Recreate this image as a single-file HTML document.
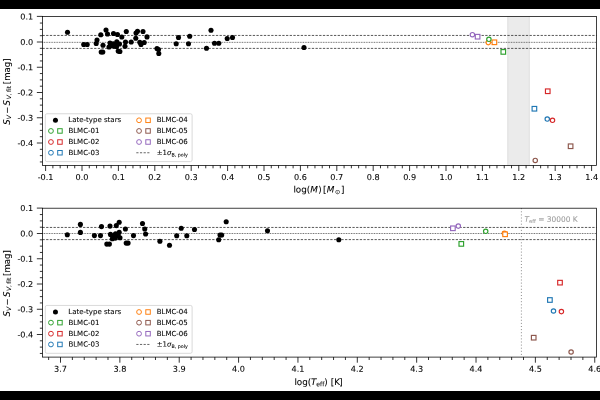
<!DOCTYPE html>
<html lang="en"><head><meta charset="utf-8"><title>Surface brightness residuals</title>
<style>
html,body{margin:0;padding:0;background:#fff;overflow:hidden}
body{width:600px;height:400px;position:relative}
svg{display:block;position:absolute;left:0;top:0}
text{font-family:'DejaVu Sans','Liberation Sans',sans-serif;fill:#000;font-variant-ligatures:none;font-kerning:none;stroke:#000;stroke-width:0.08px}
.tl{font-size:8.15px}
.al{font-size:8.8px}
.lg{font-size:7.0px}
.tk{stroke:#000;stroke-width:0.8}
.sp{fill:none;stroke:#000;stroke-width:0.75}
.dash{stroke:#222;stroke-width:0.75;stroke-dasharray:2.3 1.39}
.dot{stroke:#505050;stroke-width:0.9;stroke-dasharray:0.85 0.8}
</style></head><body>
<svg width="600" height="400" viewBox="0 0 600 400">
<rect x="0" y="0" width="600" height="400" fill="#fff"/>
<rect x="0" y="0" width="600" height="9" fill="#000"/>
<rect x="0" y="391" width="600" height="9" fill="#000"/>
<g id="top">
<rect x="507.3" y="16.5" width="22.5" height="148.90" fill="#ebebeb"/>
<rect x="507.3" y="16.5" width="1.2" height="148.90" fill="#e3e3e3"/>
<rect x="528.6" y="16.5" width="1.2" height="148.90" fill="#e3e3e3"/>
<line x1="42.45" x2="596.45" y1="35.45" y2="35.45" class="dash"/>
<line x1="42.45" x2="596.45" y1="48.40" y2="48.40" class="dash"/>
<line x1="42.45" x2="596.45" y1="42.35" y2="42.35" class="dot"/>
<circle cx="67.5" cy="32.2" r="2.55" fill="#000"/>
<circle cx="83.7" cy="44.5" r="2.55" fill="#000"/>
<circle cx="87.2" cy="44.5" r="2.55" fill="#000"/>
<circle cx="97" cy="40" r="2.55" fill="#000"/>
<circle cx="96.2" cy="43.5" r="2.55" fill="#000"/>
<circle cx="100.8" cy="34.8" r="2.55" fill="#000"/>
<circle cx="103" cy="45.2" r="2.55" fill="#000"/>
<circle cx="101.2" cy="52" r="2.55" fill="#000"/>
<circle cx="102.8" cy="52" r="2.55" fill="#000"/>
<circle cx="106" cy="30" r="2.55" fill="#000"/>
<circle cx="107.5" cy="34" r="2.55" fill="#000"/>
<circle cx="110" cy="43" r="2.55" fill="#000"/>
<circle cx="109" cy="47" r="2.55" fill="#000"/>
<circle cx="113.5" cy="33.5" r="2.55" fill="#000"/>
<circle cx="117.5" cy="34.5" r="2.55" fill="#000"/>
<circle cx="116.8" cy="41.8" r="2.55" fill="#000"/>
<circle cx="114.5" cy="46.2" r="2.55" fill="#000"/>
<circle cx="119.5" cy="44" r="2.55" fill="#000"/>
<circle cx="118.2" cy="51.1" r="2.55" fill="#000"/>
<circle cx="119.9" cy="51.5" r="2.55" fill="#000"/>
<circle cx="113.3" cy="43.9" r="2.55" fill="#000"/>
<circle cx="116.6" cy="46.4" r="2.55" fill="#000"/>
<circle cx="112" cy="45.8" r="2.55" fill="#000"/>
<circle cx="121.8" cy="37" r="2.55" fill="#000"/>
<circle cx="126.3" cy="31.5" r="2.55" fill="#000"/>
<circle cx="125.5" cy="42" r="2.55" fill="#000"/>
<circle cx="125" cy="46.2" r="2.55" fill="#000"/>
<circle cx="131.2" cy="42" r="2.55" fill="#000"/>
<circle cx="135.8" cy="38.3" r="2.55" fill="#000"/>
<circle cx="136" cy="33" r="2.55" fill="#000"/>
<circle cx="137.5" cy="31.2" r="2.55" fill="#000"/>
<circle cx="143" cy="31.5" r="2.55" fill="#000"/>
<circle cx="147" cy="36.9" r="2.55" fill="#000"/>
<circle cx="139.8" cy="42.2" r="2.55" fill="#000"/>
<circle cx="141" cy="44.5" r="2.55" fill="#000"/>
<circle cx="144.2" cy="42.5" r="2.55" fill="#000"/>
<circle cx="157" cy="48.5" r="2.55" fill="#000"/>
<circle cx="158.5" cy="49.5" r="2.55" fill="#000"/>
<circle cx="158.8" cy="53.5" r="2.55" fill="#000"/>
<circle cx="178.5" cy="37.5" r="2.55" fill="#000"/>
<circle cx="176.2" cy="43.7" r="2.55" fill="#000"/>
<circle cx="189.7" cy="36.2" r="2.55" fill="#000"/>
<circle cx="188.5" cy="43.7" r="2.55" fill="#000"/>
<circle cx="211" cy="30.2" r="2.55" fill="#000"/>
<circle cx="206.5" cy="48.2" r="2.55" fill="#000"/>
<circle cx="214.5" cy="43.2" r="2.55" fill="#000"/>
<circle cx="218.8" cy="43.2" r="2.55" fill="#000"/>
<circle cx="227.2" cy="38.5" r="2.55" fill="#000"/>
<circle cx="232.5" cy="37.5" r="2.55" fill="#000"/>
<circle cx="304" cy="47.5" r="2.55" fill="#000"/>
<circle cx="488.30" cy="42.60" r="2.20" fill="#fff" stroke="#ff7f0e" stroke-width="1.15"/>
<rect x="492.10" y="40.00" width="4.60" height="4.60" fill="#fff" stroke="#ff7f0e" stroke-width="1.15"/>
<circle cx="488.90" cy="39.30" r="2.20" fill="#fff" stroke="#2ca02c" stroke-width="1.15"/>
<rect x="501.00" y="49.60" width="4.60" height="4.60" fill="#fff" stroke="#2ca02c" stroke-width="1.15"/>
<circle cx="472.40" cy="34.70" r="2.20" fill="#fff" stroke="#9467bd" stroke-width="1.15"/>
<rect x="475.30" y="34.40" width="4.60" height="4.60" fill="#fff" stroke="#9467bd" stroke-width="1.15"/>
<rect x="545.45" y="88.95" width="4.60" height="4.60" fill="#fff" stroke="#d62728" stroke-width="1.15"/>
<rect x="532.10" y="106.45" width="4.60" height="4.60" fill="#fff" stroke="#1f77b4" stroke-width="1.15"/>
<circle cx="547.25" cy="119.00" r="2.20" fill="#fff" stroke="#1f77b4" stroke-width="1.15"/>
<circle cx="552.50" cy="120.25" r="2.20" fill="#fff" stroke="#d62728" stroke-width="1.15"/>
<circle cx="535.25" cy="160.40" r="2.20" fill="#fff" stroke="#8c564b" stroke-width="1.15"/>
<rect x="568.30" y="143.95" width="4.60" height="4.60" fill="#fff" stroke="#8c564b" stroke-width="1.15"/>
<rect x="45.3" y="113.75" width="146.8" height="47.85" rx="1.6" ry="1.6" fill="#fff" fill-opacity="0.8" stroke="#ccc" stroke-width="0.75"/>
<circle cx="55.45" cy="120.30" r="2.5" fill="#000"/>
<text x="68.35" y="122" transform="rotate(0.03 68.35 122)" class="lg">Late-type stars</text>
<circle cx="50.95" cy="130.95" r="2.40" fill="#fff" stroke="#2ca02c" stroke-width="0.98"/>
<rect x="57.70" y="128.70" width="4.50" height="4.50" fill="#fff" stroke="#2ca02c" stroke-width="0.98"/>
<text x="68.4" y="133" transform="rotate(0.03 68.4 133)" class="lg">BLMC-01</text>
<circle cx="50.95" cy="142.00" r="2.40" fill="#fff" stroke="#d62728" stroke-width="0.98"/>
<rect x="57.70" y="139.75" width="4.50" height="4.50" fill="#fff" stroke="#d62728" stroke-width="0.98"/>
<text x="68.4" y="144" transform="rotate(0.03 68.4 144)" class="lg">BLMC-02</text>
<circle cx="50.95" cy="152.75" r="2.40" fill="#fff" stroke="#1f77b4" stroke-width="0.98"/>
<rect x="57.70" y="150.50" width="4.50" height="4.50" fill="#fff" stroke="#1f77b4" stroke-width="0.98"/>
<text x="68.4" y="155" transform="rotate(0.03 68.4 155)" class="lg">BLMC-03</text>
<circle cx="139.05" cy="120.30" r="2.40" fill="#fff" stroke="#ff7f0e" stroke-width="0.98"/>
<rect x="145.80" y="118.05" width="4.50" height="4.50" fill="#fff" stroke="#ff7f0e" stroke-width="0.98"/>
<text x="156.7" y="122" transform="rotate(0.03 156.7 122)" class="lg">BLMC-04</text>
<circle cx="139.05" cy="130.95" r="2.40" fill="#fff" stroke="#8c564b" stroke-width="0.98"/>
<rect x="145.80" y="128.70" width="4.50" height="4.50" fill="#fff" stroke="#8c564b" stroke-width="0.98"/>
<text x="156.7" y="133" transform="rotate(0.03 156.7 133)" class="lg">BLMC-05</text>
<circle cx="139.05" cy="142.00" r="2.40" fill="#fff" stroke="#9467bd" stroke-width="0.98"/>
<rect x="145.80" y="139.75" width="4.50" height="4.50" fill="#fff" stroke="#9467bd" stroke-width="0.98"/>
<text x="156.7" y="144" transform="rotate(0.03 156.7 144)" class="lg">BLMC-06</text>
<line x1="136.3" x2="150" y1="152.75" y2="152.75" stroke="#333" stroke-width="0.75" stroke-dasharray="2.2 1.45"/>
<text x="156.7" y="155" transform="rotate(0.03 156.7 155)" class="lg">±1<tspan font-style="italic">σ</tspan><tspan font-size="4.76" dy="1.4">B, poly</tspan></text>
<rect x="42.45" y="16.5" width="554.00" height="148.90" class="sp"/>
<line x1="36.85" x2="42.45" y1="16.40" y2="16.40" class="tk"/>
<text x="33.25" y="19.40" transform="rotate(0.03 33.25 19.40)" class="tl" text-anchor="end">0.1</text>
<line x1="39.85" x2="42.45" y1="23.06" y2="23.06" class="tk"/>
<line x1="39.85" x2="42.45" y1="29.38" y2="29.38" class="tk"/>
<line x1="39.85" x2="42.45" y1="35.69" y2="35.69" class="tk"/>
<line x1="36.85" x2="42.45" y1="42.00" y2="42.00" class="tk"/>
<text x="33.25" y="45.00" transform="rotate(0.03 33.25 45.00)" class="tl" text-anchor="end">0.0</text>
<line x1="39.85" x2="42.45" y1="48.31" y2="48.31" class="tk"/>
<line x1="39.85" x2="42.45" y1="54.62" y2="54.62" class="tk"/>
<line x1="39.85" x2="42.45" y1="60.94" y2="60.94" class="tk"/>
<line x1="36.85" x2="42.45" y1="67.25" y2="67.25" class="tk"/>
<text x="33.25" y="70.25" transform="rotate(0.03 33.25 70.25)" class="tl" text-anchor="end">-0.1</text>
<line x1="39.85" x2="42.45" y1="73.56" y2="73.56" class="tk"/>
<line x1="39.85" x2="42.45" y1="79.88" y2="79.88" class="tk"/>
<line x1="39.85" x2="42.45" y1="86.19" y2="86.19" class="tk"/>
<line x1="36.85" x2="42.45" y1="92.50" y2="92.50" class="tk"/>
<text x="33.25" y="95.50" transform="rotate(0.03 33.25 95.50)" class="tl" text-anchor="end">-0.2</text>
<line x1="39.85" x2="42.45" y1="98.81" y2="98.81" class="tk"/>
<line x1="39.85" x2="42.45" y1="105.12" y2="105.12" class="tk"/>
<line x1="39.85" x2="42.45" y1="111.44" y2="111.44" class="tk"/>
<line x1="36.85" x2="42.45" y1="117.75" y2="117.75" class="tk"/>
<text x="33.25" y="120.75" transform="rotate(0.03 33.25 120.75)" class="tl" text-anchor="end">-0.3</text>
<line x1="39.85" x2="42.45" y1="124.06" y2="124.06" class="tk"/>
<line x1="39.85" x2="42.45" y1="130.38" y2="130.38" class="tk"/>
<line x1="39.85" x2="42.45" y1="136.69" y2="136.69" class="tk"/>
<line x1="36.85" x2="42.45" y1="143.00" y2="143.00" class="tk"/>
<text x="33.25" y="146.00" transform="rotate(0.03 33.25 146.00)" class="tl" text-anchor="end">-0.4</text>
<line x1="39.85" x2="42.45" y1="149.31" y2="149.31" class="tk"/>
<line x1="39.85" x2="42.45" y1="155.62" y2="155.62" class="tk"/>
<line x1="39.85" x2="42.45" y1="161.94" y2="161.94" class="tk"/>
<line x1="45.60" x2="45.60" y1="165.40" y2="171.00" class="tk"/>
<text x="45.60" y="180.00" transform="rotate(0.03 45.60 180.00)" class="tl" text-anchor="middle">-0.1</text>
<line x1="52.88" x2="52.88" y1="165.40" y2="168.30" class="tk"/>
<line x1="60.16" x2="60.16" y1="165.40" y2="168.30" class="tk"/>
<line x1="67.44" x2="67.44" y1="165.40" y2="168.30" class="tk"/>
<line x1="74.72" x2="74.72" y1="165.40" y2="168.30" class="tk"/>
<line x1="82.00" x2="82.00" y1="165.40" y2="171.00" class="tk"/>
<text x="82.00" y="180.00" transform="rotate(0.03 82.00 180.00)" class="tl" text-anchor="middle">0.0</text>
<line x1="89.28" x2="89.28" y1="165.40" y2="168.30" class="tk"/>
<line x1="96.56" x2="96.56" y1="165.40" y2="168.30" class="tk"/>
<line x1="103.84" x2="103.84" y1="165.40" y2="168.30" class="tk"/>
<line x1="111.12" x2="111.12" y1="165.40" y2="168.30" class="tk"/>
<line x1="118.40" x2="118.40" y1="165.40" y2="171.00" class="tk"/>
<text x="118.40" y="180.00" transform="rotate(0.03 118.40 180.00)" class="tl" text-anchor="middle">0.1</text>
<line x1="125.68" x2="125.68" y1="165.40" y2="168.30" class="tk"/>
<line x1="132.96" x2="132.96" y1="165.40" y2="168.30" class="tk"/>
<line x1="140.24" x2="140.24" y1="165.40" y2="168.30" class="tk"/>
<line x1="147.52" x2="147.52" y1="165.40" y2="168.30" class="tk"/>
<line x1="154.80" x2="154.80" y1="165.40" y2="171.00" class="tk"/>
<text x="154.80" y="180.00" transform="rotate(0.03 154.80 180.00)" class="tl" text-anchor="middle">0.2</text>
<line x1="162.08" x2="162.08" y1="165.40" y2="168.30" class="tk"/>
<line x1="169.36" x2="169.36" y1="165.40" y2="168.30" class="tk"/>
<line x1="176.64" x2="176.64" y1="165.40" y2="168.30" class="tk"/>
<line x1="183.92" x2="183.92" y1="165.40" y2="168.30" class="tk"/>
<line x1="191.20" x2="191.20" y1="165.40" y2="171.00" class="tk"/>
<text x="191.20" y="180.00" transform="rotate(0.03 191.20 180.00)" class="tl" text-anchor="middle">0.3</text>
<line x1="198.48" x2="198.48" y1="165.40" y2="168.30" class="tk"/>
<line x1="205.76" x2="205.76" y1="165.40" y2="168.30" class="tk"/>
<line x1="213.04" x2="213.04" y1="165.40" y2="168.30" class="tk"/>
<line x1="220.32" x2="220.32" y1="165.40" y2="168.30" class="tk"/>
<line x1="227.60" x2="227.60" y1="165.40" y2="171.00" class="tk"/>
<text x="227.60" y="180.00" transform="rotate(0.03 227.60 180.00)" class="tl" text-anchor="middle">0.4</text>
<line x1="234.88" x2="234.88" y1="165.40" y2="168.30" class="tk"/>
<line x1="242.16" x2="242.16" y1="165.40" y2="168.30" class="tk"/>
<line x1="249.44" x2="249.44" y1="165.40" y2="168.30" class="tk"/>
<line x1="256.72" x2="256.72" y1="165.40" y2="168.30" class="tk"/>
<line x1="264.00" x2="264.00" y1="165.40" y2="171.00" class="tk"/>
<text x="264.00" y="180.00" transform="rotate(0.03 264.00 180.00)" class="tl" text-anchor="middle">0.5</text>
<line x1="271.28" x2="271.28" y1="165.40" y2="168.30" class="tk"/>
<line x1="278.56" x2="278.56" y1="165.40" y2="168.30" class="tk"/>
<line x1="285.84" x2="285.84" y1="165.40" y2="168.30" class="tk"/>
<line x1="293.12" x2="293.12" y1="165.40" y2="168.30" class="tk"/>
<line x1="300.40" x2="300.40" y1="165.40" y2="171.00" class="tk"/>
<text x="300.40" y="180.00" transform="rotate(0.03 300.40 180.00)" class="tl" text-anchor="middle">0.6</text>
<line x1="307.68" x2="307.68" y1="165.40" y2="168.30" class="tk"/>
<line x1="314.96" x2="314.96" y1="165.40" y2="168.30" class="tk"/>
<line x1="322.24" x2="322.24" y1="165.40" y2="168.30" class="tk"/>
<line x1="329.52" x2="329.52" y1="165.40" y2="168.30" class="tk"/>
<line x1="336.80" x2="336.80" y1="165.40" y2="171.00" class="tk"/>
<text x="336.80" y="180.00" transform="rotate(0.03 336.80 180.00)" class="tl" text-anchor="middle">0.7</text>
<line x1="344.08" x2="344.08" y1="165.40" y2="168.30" class="tk"/>
<line x1="351.36" x2="351.36" y1="165.40" y2="168.30" class="tk"/>
<line x1="358.64" x2="358.64" y1="165.40" y2="168.30" class="tk"/>
<line x1="365.92" x2="365.92" y1="165.40" y2="168.30" class="tk"/>
<line x1="373.20" x2="373.20" y1="165.40" y2="171.00" class="tk"/>
<text x="373.20" y="180.00" transform="rotate(0.03 373.20 180.00)" class="tl" text-anchor="middle">0.8</text>
<line x1="380.48" x2="380.48" y1="165.40" y2="168.30" class="tk"/>
<line x1="387.76" x2="387.76" y1="165.40" y2="168.30" class="tk"/>
<line x1="395.04" x2="395.04" y1="165.40" y2="168.30" class="tk"/>
<line x1="402.32" x2="402.32" y1="165.40" y2="168.30" class="tk"/>
<line x1="409.60" x2="409.60" y1="165.40" y2="171.00" class="tk"/>
<text x="409.60" y="180.00" transform="rotate(0.03 409.60 180.00)" class="tl" text-anchor="middle">0.9</text>
<line x1="416.88" x2="416.88" y1="165.40" y2="168.30" class="tk"/>
<line x1="424.16" x2="424.16" y1="165.40" y2="168.30" class="tk"/>
<line x1="431.44" x2="431.44" y1="165.40" y2="168.30" class="tk"/>
<line x1="438.72" x2="438.72" y1="165.40" y2="168.30" class="tk"/>
<line x1="446.00" x2="446.00" y1="165.40" y2="171.00" class="tk"/>
<text x="446.00" y="180.00" transform="rotate(0.03 446.00 180.00)" class="tl" text-anchor="middle">1.0</text>
<line x1="453.28" x2="453.28" y1="165.40" y2="168.30" class="tk"/>
<line x1="460.56" x2="460.56" y1="165.40" y2="168.30" class="tk"/>
<line x1="467.84" x2="467.84" y1="165.40" y2="168.30" class="tk"/>
<line x1="475.12" x2="475.12" y1="165.40" y2="168.30" class="tk"/>
<line x1="482.40" x2="482.40" y1="165.40" y2="171.00" class="tk"/>
<text x="482.40" y="180.00" transform="rotate(0.03 482.40 180.00)" class="tl" text-anchor="middle">1.1</text>
<line x1="489.68" x2="489.68" y1="165.40" y2="168.30" class="tk"/>
<line x1="496.96" x2="496.96" y1="165.40" y2="168.30" class="tk"/>
<line x1="504.24" x2="504.24" y1="165.40" y2="168.30" class="tk"/>
<line x1="511.52" x2="511.52" y1="165.40" y2="168.30" class="tk"/>
<line x1="518.80" x2="518.80" y1="165.40" y2="171.00" class="tk"/>
<text x="518.80" y="180.00" transform="rotate(0.03 518.80 180.00)" class="tl" text-anchor="middle">1.2</text>
<line x1="526.08" x2="526.08" y1="165.40" y2="168.30" class="tk"/>
<line x1="533.36" x2="533.36" y1="165.40" y2="168.30" class="tk"/>
<line x1="540.64" x2="540.64" y1="165.40" y2="168.30" class="tk"/>
<line x1="547.92" x2="547.92" y1="165.40" y2="168.30" class="tk"/>
<line x1="555.20" x2="555.20" y1="165.40" y2="171.00" class="tk"/>
<text x="555.20" y="180.00" transform="rotate(0.03 555.20 180.00)" class="tl" text-anchor="middle">1.3</text>
<line x1="562.48" x2="562.48" y1="165.40" y2="168.30" class="tk"/>
<line x1="569.76" x2="569.76" y1="165.40" y2="168.30" class="tk"/>
<line x1="577.04" x2="577.04" y1="165.40" y2="168.30" class="tk"/>
<line x1="584.32" x2="584.32" y1="165.40" y2="168.30" class="tk"/>
<line x1="591.60" x2="591.60" y1="165.40" y2="171.00" class="tk"/>
<text x="591.60" y="180.00" transform="rotate(0.03 591.60 180.00)" class="tl" text-anchor="middle">1.4</text>
<text x="293.4" y="192.50" transform="rotate(0.03 293.4 192.50)" class="al">log(<tspan font-style="italic" dx="0.1">M</tspan><tspan dx="0.2">)</tspan><tspan dx="-1.3"> [</tspan><tspan font-style="italic" dx="0.3">M</tspan><tspan font-size="6.16" dy="1.6" dx="0.7">⊙</tspan><tspan dy="-1.6" dx="0.8">]</tspan></text>
<text transform="translate(10.0,124.80) rotate(-90)" class="al" style="font-size:8.6px"><tspan x="0.1" y="0" font-style="italic">S</tspan><tspan x="5.6" y="1.2" font-size="5.98" font-style="italic">V</tspan><tspan x="10.97" y="0">−</tspan><tspan x="19.4" y="0" font-style="italic">S</tspan><tspan x="25.5" y="1.2" font-size="5.98" font-style="italic">V</tspan><tspan x="29.6" y="1.2" font-size="5.98">,</tspan><tspan x="32.7" y="1.2" font-size="5.98">fit</tspan><tspan x="40.6" y="0">[mag]</tspan></text>
</g>
<g id="bottom">
<line x1="521.40" x2="521.40" y1="208.20" y2="357.10" stroke="#808080" stroke-width="0.9" stroke-dasharray="1 2.1"/>
<text x="524.40" y="221.8" transform="rotate(0.03 524.40 221.8)" style="font-size:7.45px;fill:#9c9c9c;stroke:#9c9c9c"><tspan font-style="italic">T</tspan><tspan font-size="5.21" dy="1.3">eff</tspan><tspan dy="-1.3"> = 30000 K</tspan></text>
<line x1="42.45" x2="596.45" y1="227.45" y2="227.45" class="dash"/>
<line x1="42.45" x2="596.45" y1="239.60" y2="239.60" class="dash"/>
<line x1="42.45" x2="596.45" y1="233.50" y2="233.50" class="dot"/>
<circle cx="67.3" cy="234.7" r="2.55" fill="#000"/>
<circle cx="80.4" cy="224.4" r="2.55" fill="#000"/>
<circle cx="80.4" cy="232.4" r="2.55" fill="#000"/>
<circle cx="94.4" cy="235.6" r="2.55" fill="#000"/>
<circle cx="100.5" cy="235.6" r="2.55" fill="#000"/>
<circle cx="101.5" cy="226.6" r="2.55" fill="#000"/>
<circle cx="110" cy="226.1" r="2.55" fill="#000"/>
<circle cx="106.8" cy="244.1" r="2.55" fill="#000"/>
<circle cx="109.4" cy="244.1" r="2.55" fill="#000"/>
<circle cx="110.5" cy="234.4" r="2.55" fill="#000"/>
<circle cx="116.3" cy="225.6" r="2.55" fill="#000"/>
<circle cx="119.2" cy="222.3" r="2.55" fill="#000"/>
<circle cx="112.3" cy="238.7" r="2.55" fill="#000"/>
<circle cx="115.3" cy="238.1" r="2.55" fill="#000"/>
<circle cx="115.5" cy="233.8" r="2.55" fill="#000"/>
<circle cx="119.2" cy="232.2" r="2.55" fill="#000"/>
<circle cx="120" cy="237.8" r="2.55" fill="#000"/>
<circle cx="118.1" cy="235.6" r="2.55" fill="#000"/>
<circle cx="113.1" cy="236.2" r="2.55" fill="#000"/>
<circle cx="125.4" cy="229" r="2.55" fill="#000"/>
<circle cx="126.2" cy="243.1" r="2.55" fill="#000"/>
<circle cx="128.1" cy="243.1" r="2.55" fill="#000"/>
<circle cx="133.5" cy="235.6" r="2.55" fill="#000"/>
<circle cx="142.5" cy="223.5" r="2.55" fill="#000"/>
<circle cx="144.75" cy="229" r="2.55" fill="#000"/>
<circle cx="145.6" cy="234" r="2.55" fill="#000"/>
<circle cx="159.9" cy="241.2" r="2.55" fill="#000"/>
<circle cx="169.5" cy="245.3" r="2.55" fill="#000"/>
<circle cx="176.7" cy="235.8" r="2.55" fill="#000"/>
<circle cx="181.2" cy="228.3" r="2.55" fill="#000"/>
<circle cx="186.8" cy="235.8" r="2.55" fill="#000"/>
<circle cx="194.5" cy="229.5" r="2.55" fill="#000"/>
<circle cx="226.2" cy="221.7" r="2.55" fill="#000"/>
<circle cx="220" cy="235" r="2.55" fill="#000"/>
<circle cx="221.7" cy="235" r="2.55" fill="#000"/>
<circle cx="218.7" cy="239.7" r="2.55" fill="#000"/>
<circle cx="267.5" cy="230.8" r="2.55" fill="#000"/>
<circle cx="338.8" cy="239.7" r="2.55" fill="#000"/>
<rect x="450.60" y="226.00" width="4.60" height="4.60" fill="#fff" stroke="#9467bd" stroke-width="1.15"/>
<circle cx="458.30" cy="226.10" r="2.20" fill="#fff" stroke="#9467bd" stroke-width="1.15"/>
<rect x="459.00" y="241.60" width="4.60" height="4.60" fill="#fff" stroke="#2ca02c" stroke-width="1.15"/>
<circle cx="485.70" cy="231.30" r="2.20" fill="#fff" stroke="#2ca02c" stroke-width="1.15"/>
<circle cx="504.40" cy="233.30" r="2.20" fill="#fff" stroke="#ff7f0e" stroke-width="1.15"/>
<rect x="502.80" y="232.00" width="4.60" height="4.60" fill="#fff" stroke="#ff7f0e" stroke-width="1.15"/>
<rect x="557.70" y="280.35" width="4.60" height="4.60" fill="#fff" stroke="#d62728" stroke-width="1.15"/>
<rect x="547.60" y="297.70" width="4.60" height="4.60" fill="#fff" stroke="#1f77b4" stroke-width="1.15"/>
<circle cx="553.50" cy="311.00" r="2.20" fill="#fff" stroke="#1f77b4" stroke-width="1.15"/>
<circle cx="561.40" cy="311.60" r="2.20" fill="#fff" stroke="#d62728" stroke-width="1.15"/>
<rect x="531.40" y="335.40" width="4.60" height="4.60" fill="#fff" stroke="#8c564b" stroke-width="1.15"/>
<circle cx="571.10" cy="352.00" r="2.20" fill="#fff" stroke="#8c564b" stroke-width="1.15"/>
<rect x="45.3" y="305.45" width="146.8" height="47.85" rx="1.6" ry="1.6" fill="#fff" fill-opacity="0.8" stroke="#ccc" stroke-width="0.75"/>
<circle cx="55.45" cy="312.00" r="2.5" fill="#000"/>
<text x="68.35" y="314" transform="rotate(0.03 68.35 314)" class="lg">Late-type stars</text>
<circle cx="50.95" cy="322.65" r="2.40" fill="#fff" stroke="#2ca02c" stroke-width="0.98"/>
<rect x="57.70" y="320.40" width="4.50" height="4.50" fill="#fff" stroke="#2ca02c" stroke-width="0.98"/>
<text x="68.4" y="325" transform="rotate(0.03 68.4 325)" class="lg">BLMC-01</text>
<circle cx="50.95" cy="333.70" r="2.40" fill="#fff" stroke="#d62728" stroke-width="0.98"/>
<rect x="57.70" y="331.45" width="4.50" height="4.50" fill="#fff" stroke="#d62728" stroke-width="0.98"/>
<text x="68.4" y="336" transform="rotate(0.03 68.4 336)" class="lg">BLMC-02</text>
<circle cx="50.95" cy="344.45" r="2.40" fill="#fff" stroke="#1f77b4" stroke-width="0.98"/>
<rect x="57.70" y="342.20" width="4.50" height="4.50" fill="#fff" stroke="#1f77b4" stroke-width="0.98"/>
<text x="68.4" y="346.6" transform="rotate(0.03 68.4 346.6)" class="lg">BLMC-03</text>
<circle cx="139.05" cy="312.00" r="2.40" fill="#fff" stroke="#ff7f0e" stroke-width="0.98"/>
<rect x="145.80" y="309.75" width="4.50" height="4.50" fill="#fff" stroke="#ff7f0e" stroke-width="0.98"/>
<text x="156.7" y="314" transform="rotate(0.03 156.7 314)" class="lg">BLMC-04</text>
<circle cx="139.05" cy="322.65" r="2.40" fill="#fff" stroke="#8c564b" stroke-width="0.98"/>
<rect x="145.80" y="320.40" width="4.50" height="4.50" fill="#fff" stroke="#8c564b" stroke-width="0.98"/>
<text x="156.7" y="325" transform="rotate(0.03 156.7 325)" class="lg">BLMC-05</text>
<circle cx="139.05" cy="333.70" r="2.40" fill="#fff" stroke="#9467bd" stroke-width="0.98"/>
<rect x="145.80" y="331.45" width="4.50" height="4.50" fill="#fff" stroke="#9467bd" stroke-width="0.98"/>
<text x="156.7" y="336" transform="rotate(0.03 156.7 336)" class="lg">BLMC-06</text>
<line x1="136.3" x2="150" y1="344.45" y2="344.45" stroke="#333" stroke-width="0.75" stroke-dasharray="2.2 1.45"/>
<text x="156.7" y="346.6" transform="rotate(0.03 156.7 346.6)" class="lg">±1<tspan font-style="italic">σ</tspan><tspan font-size="4.76" dy="1.4">B, poly</tspan></text>
<rect x="42.45" y="208.20" width="554.00" height="148.90" class="sp"/>
<line x1="36.85" x2="42.45" y1="208.10" y2="208.10" class="tk"/>
<text x="33.25" y="211.10" transform="rotate(0.03 33.25 211.10)" class="tl" text-anchor="end">0.1</text>
<line x1="39.85" x2="42.45" y1="214.56" y2="214.56" class="tk"/>
<line x1="39.85" x2="42.45" y1="220.88" y2="220.88" class="tk"/>
<line x1="39.85" x2="42.45" y1="227.19" y2="227.19" class="tk"/>
<line x1="36.85" x2="42.45" y1="233.50" y2="233.50" class="tk"/>
<text x="33.25" y="236.50" transform="rotate(0.03 33.25 236.50)" class="tl" text-anchor="end">0.0</text>
<line x1="39.85" x2="42.45" y1="239.81" y2="239.81" class="tk"/>
<line x1="39.85" x2="42.45" y1="246.12" y2="246.12" class="tk"/>
<line x1="39.85" x2="42.45" y1="252.44" y2="252.44" class="tk"/>
<line x1="36.85" x2="42.45" y1="258.75" y2="258.75" class="tk"/>
<text x="33.25" y="261.75" transform="rotate(0.03 33.25 261.75)" class="tl" text-anchor="end">-0.1</text>
<line x1="39.85" x2="42.45" y1="265.06" y2="265.06" class="tk"/>
<line x1="39.85" x2="42.45" y1="271.38" y2="271.38" class="tk"/>
<line x1="39.85" x2="42.45" y1="277.69" y2="277.69" class="tk"/>
<line x1="36.85" x2="42.45" y1="284.00" y2="284.00" class="tk"/>
<text x="33.25" y="287.00" transform="rotate(0.03 33.25 287.00)" class="tl" text-anchor="end">-0.2</text>
<line x1="39.85" x2="42.45" y1="290.31" y2="290.31" class="tk"/>
<line x1="39.85" x2="42.45" y1="296.62" y2="296.62" class="tk"/>
<line x1="39.85" x2="42.45" y1="302.94" y2="302.94" class="tk"/>
<line x1="36.85" x2="42.45" y1="309.25" y2="309.25" class="tk"/>
<text x="33.25" y="312.25" transform="rotate(0.03 33.25 312.25)" class="tl" text-anchor="end">-0.3</text>
<line x1="39.85" x2="42.45" y1="315.56" y2="315.56" class="tk"/>
<line x1="39.85" x2="42.45" y1="321.88" y2="321.88" class="tk"/>
<line x1="39.85" x2="42.45" y1="328.19" y2="328.19" class="tk"/>
<line x1="36.85" x2="42.45" y1="334.50" y2="334.50" class="tk"/>
<text x="33.25" y="337.50" transform="rotate(0.03 33.25 337.50)" class="tl" text-anchor="end">-0.4</text>
<line x1="39.85" x2="42.45" y1="340.81" y2="340.81" class="tk"/>
<line x1="39.85" x2="42.45" y1="347.12" y2="347.12" class="tk"/>
<line x1="39.85" x2="42.45" y1="353.44" y2="353.44" class="tk"/>
<line x1="48.63" x2="48.63" y1="357.10" y2="360.00" class="tk"/>
<line x1="60.50" x2="60.50" y1="357.10" y2="362.70" class="tk"/>
<text x="60.50" y="371.70" transform="rotate(0.03 60.50 371.70)" class="tl" text-anchor="middle">3.7</text>
<line x1="72.37" x2="72.37" y1="357.10" y2="360.00" class="tk"/>
<line x1="84.24" x2="84.24" y1="357.10" y2="360.00" class="tk"/>
<line x1="96.12" x2="96.12" y1="357.10" y2="360.00" class="tk"/>
<line x1="107.99" x2="107.99" y1="357.10" y2="360.00" class="tk"/>
<line x1="119.86" x2="119.86" y1="357.10" y2="362.70" class="tk"/>
<text x="119.86" y="371.70" transform="rotate(0.03 119.86 371.70)" class="tl" text-anchor="middle">3.8</text>
<line x1="131.73" x2="131.73" y1="357.10" y2="360.00" class="tk"/>
<line x1="143.60" x2="143.60" y1="357.10" y2="360.00" class="tk"/>
<line x1="155.48" x2="155.48" y1="357.10" y2="360.00" class="tk"/>
<line x1="167.35" x2="167.35" y1="357.10" y2="360.00" class="tk"/>
<line x1="179.22" x2="179.22" y1="357.10" y2="362.70" class="tk"/>
<text x="179.22" y="371.70" transform="rotate(0.03 179.22 371.70)" class="tl" text-anchor="middle">3.9</text>
<line x1="191.09" x2="191.09" y1="357.10" y2="360.00" class="tk"/>
<line x1="202.96" x2="202.96" y1="357.10" y2="360.00" class="tk"/>
<line x1="214.84" x2="214.84" y1="357.10" y2="360.00" class="tk"/>
<line x1="226.71" x2="226.71" y1="357.10" y2="360.00" class="tk"/>
<line x1="238.58" x2="238.58" y1="357.10" y2="362.70" class="tk"/>
<text x="238.58" y="371.70" transform="rotate(0.03 238.58 371.70)" class="tl" text-anchor="middle">4.0</text>
<line x1="250.45" x2="250.45" y1="357.10" y2="360.00" class="tk"/>
<line x1="262.32" x2="262.32" y1="357.10" y2="360.00" class="tk"/>
<line x1="274.20" x2="274.20" y1="357.10" y2="360.00" class="tk"/>
<line x1="286.07" x2="286.07" y1="357.10" y2="360.00" class="tk"/>
<line x1="297.94" x2="297.94" y1="357.10" y2="362.70" class="tk"/>
<text x="297.94" y="371.70" transform="rotate(0.03 297.94 371.70)" class="tl" text-anchor="middle">4.1</text>
<line x1="309.81" x2="309.81" y1="357.10" y2="360.00" class="tk"/>
<line x1="321.68" x2="321.68" y1="357.10" y2="360.00" class="tk"/>
<line x1="333.56" x2="333.56" y1="357.10" y2="360.00" class="tk"/>
<line x1="345.43" x2="345.43" y1="357.10" y2="360.00" class="tk"/>
<line x1="357.30" x2="357.30" y1="357.10" y2="362.70" class="tk"/>
<text x="357.30" y="371.70" transform="rotate(0.03 357.30 371.70)" class="tl" text-anchor="middle">4.2</text>
<line x1="369.17" x2="369.17" y1="357.10" y2="360.00" class="tk"/>
<line x1="381.04" x2="381.04" y1="357.10" y2="360.00" class="tk"/>
<line x1="392.92" x2="392.92" y1="357.10" y2="360.00" class="tk"/>
<line x1="404.79" x2="404.79" y1="357.10" y2="360.00" class="tk"/>
<line x1="416.66" x2="416.66" y1="357.10" y2="362.70" class="tk"/>
<text x="416.66" y="371.70" transform="rotate(0.03 416.66 371.70)" class="tl" text-anchor="middle">4.3</text>
<line x1="428.53" x2="428.53" y1="357.10" y2="360.00" class="tk"/>
<line x1="440.40" x2="440.40" y1="357.10" y2="360.00" class="tk"/>
<line x1="452.28" x2="452.28" y1="357.10" y2="360.00" class="tk"/>
<line x1="464.15" x2="464.15" y1="357.10" y2="360.00" class="tk"/>
<line x1="476.02" x2="476.02" y1="357.10" y2="362.70" class="tk"/>
<text x="476.02" y="371.70" transform="rotate(0.03 476.02 371.70)" class="tl" text-anchor="middle">4.4</text>
<line x1="487.89" x2="487.89" y1="357.10" y2="360.00" class="tk"/>
<line x1="499.76" x2="499.76" y1="357.10" y2="360.00" class="tk"/>
<line x1="511.64" x2="511.64" y1="357.10" y2="360.00" class="tk"/>
<line x1="523.51" x2="523.51" y1="357.10" y2="360.00" class="tk"/>
<line x1="535.38" x2="535.38" y1="357.10" y2="362.70" class="tk"/>
<text x="535.38" y="371.70" transform="rotate(0.03 535.38 371.70)" class="tl" text-anchor="middle">4.5</text>
<line x1="547.25" x2="547.25" y1="357.10" y2="360.00" class="tk"/>
<line x1="559.12" x2="559.12" y1="357.10" y2="360.00" class="tk"/>
<line x1="571.00" x2="571.00" y1="357.10" y2="360.00" class="tk"/>
<line x1="582.87" x2="582.87" y1="357.10" y2="360.00" class="tk"/>
<line x1="594.74" x2="594.74" y1="357.10" y2="362.70" class="tk"/>
<text x="594.74" y="371.70" transform="rotate(0.03 594.74 371.70)" class="tl" text-anchor="middle">4.6</text>
<text x="294.4" y="384.90" transform="rotate(0.03 294.4 384.90)" class="al">log(<tspan font-style="italic" dx="-0.3">T</tspan><tspan font-size="6.16" dy="1.3">eff</tspan><tspan dy="-1.3" dx="-0.3">)</tspan><tspan dx="0.4"> [</tspan>K<tspan dx="-0.8">]</tspan></text>
<text transform="translate(10.0,316.50) rotate(-90)" class="al" style="font-size:8.6px"><tspan x="0.1" y="0" font-style="italic">S</tspan><tspan x="5.6" y="1.2" font-size="5.98" font-style="italic">V</tspan><tspan x="10.97" y="0">−</tspan><tspan x="19.4" y="0" font-style="italic">S</tspan><tspan x="25.5" y="1.2" font-size="5.98" font-style="italic">V</tspan><tspan x="29.6" y="1.2" font-size="5.98">,</tspan><tspan x="32.7" y="1.2" font-size="5.98">fit</tspan><tspan x="40.6" y="0">[mag]</tspan></text>
</g>
</svg>
</body></html>
